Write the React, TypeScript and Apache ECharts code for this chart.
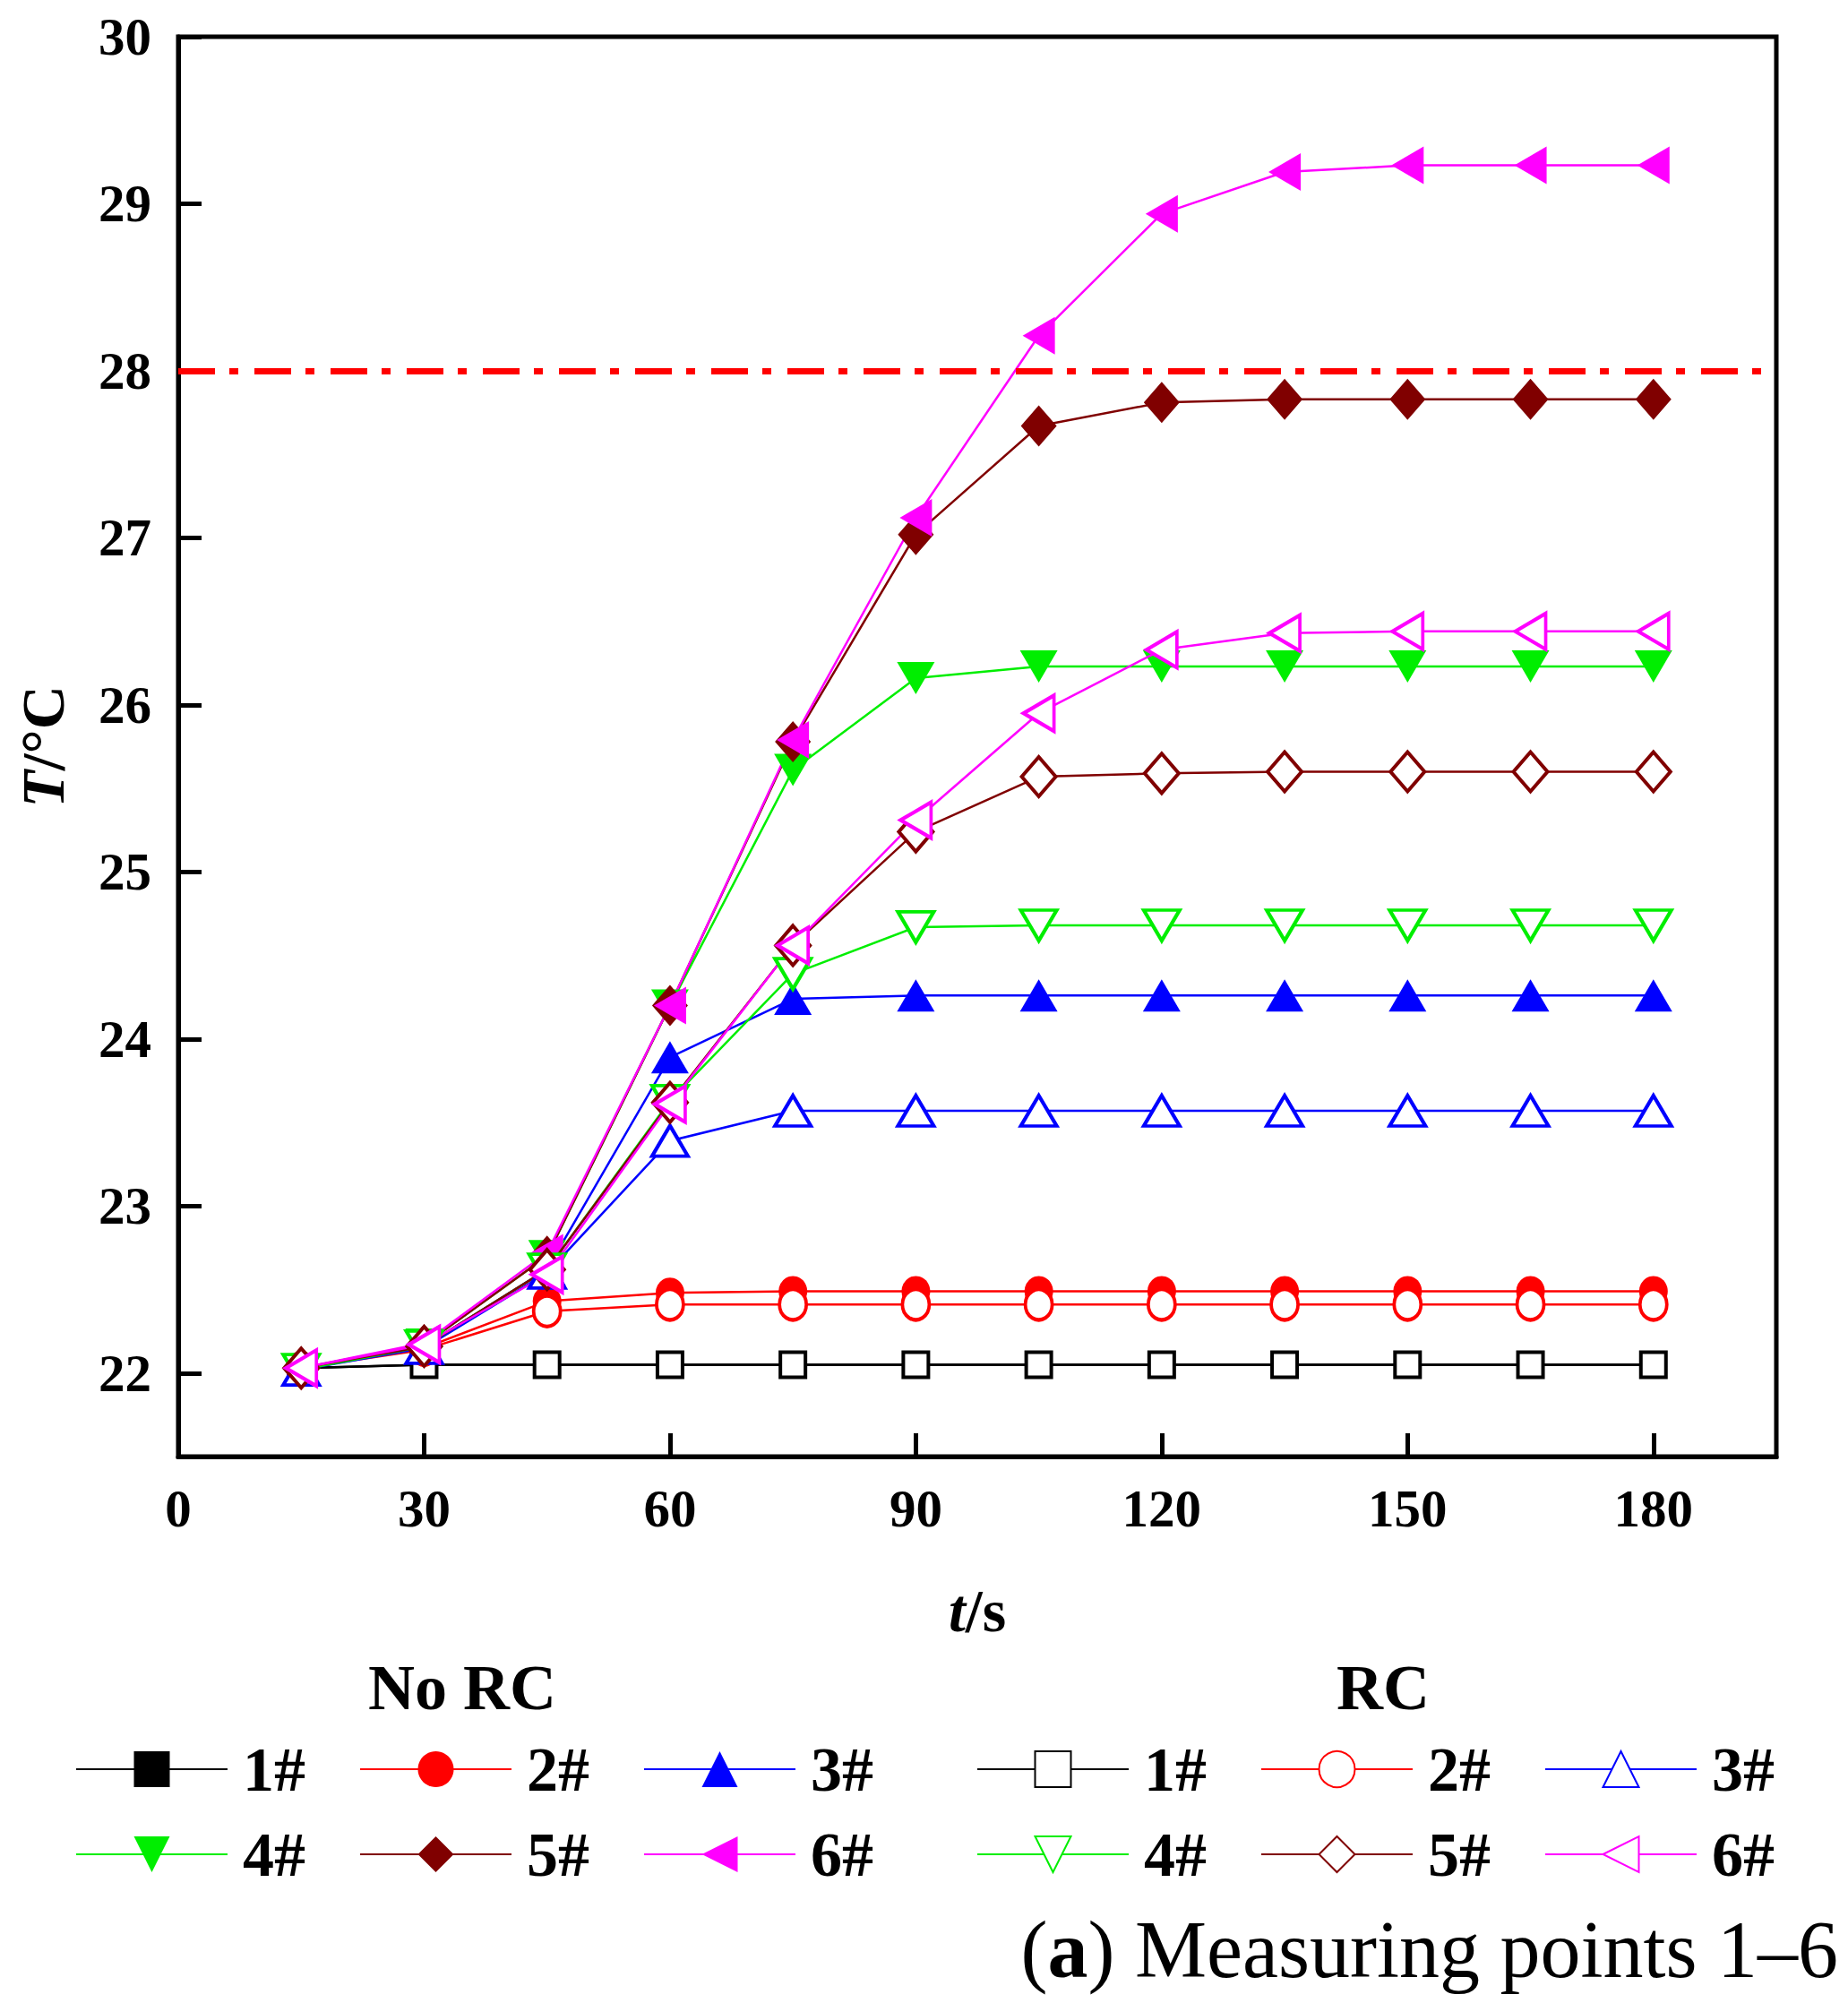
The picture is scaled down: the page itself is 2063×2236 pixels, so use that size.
import React, { useEffect, useRef } from "react";
import * as echarts from "echarts";

const timeS = [15, 30, 45, 60, 75, 90, 105, 120, 135, 150, 165, 180];

// No RC (filled markers)
const noRc1 = [22.03, 22.05, 22.05, 22.05, 22.05, 22.05, 22.05, 22.05, 22.05, 22.05, 22.05, 22.05];
const noRc2 = [22.03, 22.15, 22.43, 22.48, 22.49, 22.49, 22.49, 22.49, 22.49, 22.49, 22.49, 22.49];
const noRc3 = [22.02, 22.16, 22.62, 23.89, 24.24, 24.26, 24.26, 24.26, 24.26, 24.26, 24.26, 24.26];
const noRc4 = [22.02, 22.17, 22.7, 24.2, 25.61, 26.16, 26.23, 26.23, 26.23, 26.23, 26.23, 26.23];
const noRc5 = [22.03, 22.17, 22.7, 24.2, 25.78, 27.02, 27.67, 27.81, 27.83, 27.83, 27.83, 27.83];
const noRc6 = [22.03, 22.18, 22.72, 24.2, 25.79, 27.12, 28.21, 28.94, 29.19, 29.23, 29.23, 29.23];

// RC (hollow markers)
const rc1 = [22.03, 22.05, 22.05, 22.05, 22.05, 22.05, 22.05, 22.05, 22.05, 22.05, 22.05, 22.05];
const rc2 = [22.03, 22.14, 22.37, 22.41, 22.41, 22.41, 22.41, 22.41, 22.41, 22.41, 22.41, 22.41];
const rc3 = [22.02, 22.15, 22.6, 23.39, 23.57, 23.57, 23.57, 23.57, 23.57, 23.57, 23.57, 23.57];
const rc4 = [22.02, 22.16, 22.62, 23.63, 24.39, 24.67, 24.68, 24.68, 24.68, 24.68, 24.68, 24.68];
const rc5 = [22.03, 22.16, 22.62, 23.62, 24.56, 25.24, 25.57, 25.59, 25.6, 25.6, 25.6, 25.6];
const rc6 = [22.03, 22.17, 22.59, 23.61, 24.56, 25.31, 25.95, 26.33, 26.43, 26.44, 26.44, 26.44];

const pointNames = ["1#", "2#", "3#", "4#", "5#", "6#"];
const xTickLabels = [0, 30, 60, 90, 120, 150, 180];
const yTickLabels = [22, 23, 24, 25, 26, 27, 28, 29, 30];
const threshold = 28;

const colors = ["#000000", "#ff0000", "#0000ff", "#00ee00", "#800000", "#ff00ff"];
const symbols = ["rect", "circle", "triangle", "triangle", "diamond", "triangle"];
const rotations = [0, 0, 0, 180, 0, 90];
const sizes: any[] = [[26, 26], [32, 34], [42, 36], [42, 36], [40, 46], [42, 36]];
const hollowSizes: any[] = [[28, 28], [30, 34], [40, 34], [40, 34], [38, 44], [40, 34]];

const FONT = "Liberation Serif";

export default function App() {
  const ref = useRef<HTMLDivElement>(null);
  useEffect(() => {
    document.body.style.margin = "0";
    document.body.style.overflow = "hidden";
    const chart = echarts.init(ref.current!, null, { renderer: "svg" });
    const noRc = [noRc1, noRc2, noRc3, noRc4, noRc5, noRc6];
    const rc = [rc1, rc2, rc3, rc4, rc5, rc6];
    const series: any[] = [];
    noRc.forEach((vals, i) => {
      series.push({
        name: "No RC " + pointNames[i],
        type: "line",
        data: timeS.map((t, k) => [t, vals[k]]),
        symbol: symbols[i],
        symbolSize: sizes[i],
        symbolRotate: rotations[i],
        showAllSymbol: true,
        lineStyle: { color: colors[i], width: 2.5 },
        itemStyle: { color: colors[i], borderWidth: 0 },
        z: 2,
        markLine:
          i === 0
            ? {
                silent: true,
                symbol: ["none", "none"],
                label: { show: false },
                lineStyle: { color: "#ff0000", width: 7, type: [41, 16, 10, 18] },
                data: [{ yAxis: threshold }],
              }
            : undefined,
      });
    });
    rc.forEach((vals, i) => {
      series.push({
        name: "RC " + pointNames[i],
        type: "line",
        data: timeS.map((t, k) => [t, vals[k]]),
        symbol: symbols[i],
        symbolSize: hollowSizes[i],
        symbolRotate: rotations[i],
        showAllSymbol: true,
        lineStyle: { color: colors[i], width: 2.5 },
        itemStyle: { color: "#ffffff", borderColor: colors[i], borderWidth: 4 },
        z: 3,
      });
    });

    const legendCommon = {
      orient: "horizontal",
      itemWidth: 169,
      itemHeight: 50,
      itemGap: 60,
      selectedMode: false,
      formatter: (n: string) => n.replace(/^(No RC|RC) /, ""),
      textStyle: {
        fontFamily: FONT,
        fontWeight: "bold",
        fontSize: 70,
        color: "#000",
        padding: [0, 0, 0, 12],
      },
    };

    chart.setOption({
      animation: false,
      backgroundColor: "#ffffff",
      grid: {
        left: 199,
        top: 41,
        right: 80,
        bottom: 610,
        show: true,
        borderColor: "#000",
        borderWidth: 5,
        backgroundColor: "transparent",
      },
      xAxis: {
        type: "value",
        min: 0,
        max: 195,
        name: "{i|t}/s",
        nameLocation: "middle",
        nameGap: 138,
        nameTextStyle: {
          fontFamily: FONT,
          fontWeight: "bold",
          fontSize: 68,
          color: "#000",
          rich: { i: { fontFamily: FONT, fontWeight: "bold", fontStyle: "italic", fontSize: 68, color: "#000" } },
        },
        splitLine: { show: false },
        axisLine: { lineStyle: { color: "#000", width: 5 } },
        axisTick: {
          inside: true,
          length: 26,
          lineStyle: { color: "#000", width: 5 },
          customValues: xTickLabels,
        },
        axisLabel: {
          customValues: xTickLabels,
          margin: 28,
          fontFamily: FONT,
          fontWeight: "bold",
          fontSize: 59,
          color: "#000",
        },
      },
      yAxis: {
        type: "value",
        min: 21.5,
        max: 30,
        name: "{i|T}/°C",
        nameLocation: "middle",
        nameGap: 117,
        nameTextStyle: {
          fontFamily: FONT,
          fontWeight: "bold",
          fontSize: 68,
          color: "#000",
          rich: { i: { fontFamily: FONT, fontWeight: "bold", fontStyle: "italic", fontSize: 68, color: "#000" } },
        },
        splitLine: { show: false },
        axisLine: { lineStyle: { color: "#000", width: 5 } },
        axisTick: {
          inside: true,
          length: 26,
          lineStyle: { color: "#000", width: 5 },
          customValues: yTickLabels,
        },
        axisLabel: {
          customValues: yTickLabels,
          margin: 30,
          fontFamily: FONT,
          fontWeight: "bold",
          fontSize: 59,
          color: "#000",
        },
      },
      legend: [
        { ...legendCommon, left: 79, top: 1935, data: ["No RC 1#", "No RC 2#", "No RC 3#"] },
        { ...legendCommon, left: 79, top: 2030, data: ["No RC 4#", "No RC 5#", "No RC 6#"] },
        { ...legendCommon, left: 1085, top: 1935, data: ["RC 1#", "RC 2#", "RC 3#"] },
        { ...legendCommon, left: 1085, top: 2030, data: ["RC 4#", "RC 5#", "RC 6#"] },
      ],
      graphic: [
        {
          type: "text",
          style: {
            text: "No RC",
            x: 516,
            y: 1884,
            align: "center",
            verticalAlign: "middle",
            fontFamily: FONT,
            fontWeight: "bold",
            fontSize: 72,
            fill: "#000",
          },
        },
        {
          type: "text",
          style: {
            text: "RC",
            x: 1544,
            y: 1884,
            align: "center",
            verticalAlign: "middle",
            fontFamily: FONT,
            fontWeight: "bold",
            fontSize: 72,
            fill: "#000",
          },
        },
        {
          type: "text",
          style: {
            text: "({b|a}) Measuring points 1–6",
            x: 2052,
            y: 2176,
            align: "right",
            verticalAlign: "middle",
            fontFamily: FONT,
            fontSize: 90,
            fill: "#000",
            rich: { b: { fontFamily: FONT, fontWeight: "bold", fontSize: 90, fill: "#000" } },
          },
        },
      ],
      series,
    });
    return () => chart.dispose();
  }, []);
  return <div ref={ref} style={{ width: 2063, height: 2236 }} />;
}
